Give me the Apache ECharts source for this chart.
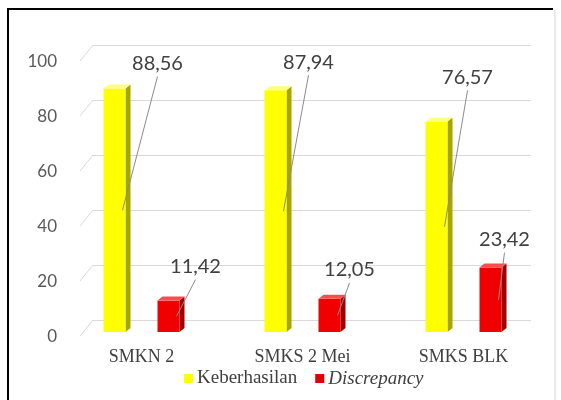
<!DOCTYPE html>
<html>
<head>
<meta charset="utf-8">
<script src="https://cdn.jsdelivr.net/npm/echarts@6/dist/echarts.min.js"></script>
<style>
  html, body { margin: 0; padding: 0; background: #fff; }
  #chart { width: 561px; height: 400px; }
</style>
</head>
<body>
<div id="chart"></div>
<script>
// data
var categories = ['SMKN 2', 'SMKS 2 Mei', 'SMKS BLK'];
var keberhasilan = [88.56, 87.94, 76.57];
var discrepancy = [11.42, 12.05, 23.42];
var yTicks = [0, 20, 40, 60, 80, 100];

// label offsets from bar (dx from bar centre, dy from bar top)
var yellowLabelPos = [[43, -25], [33, -28], [31, -44]];
var redLabelPos = [[27, -34], [20, -29], [14, -28]];

var chart = echarts.init(document.getElementById('chart'));

// 3D-looking bar with a leader-line label
function bar3d(shift, colors, labelPos) {
    return function (params, api) {
        var i = api.value(0);
        var v = api.value(1);
        var top = api.coord([i, v]);
        var base = api.coord([i, 0]);
        var bw = api.size([1, 0])[0];
        var cx = top[0] + shift * bw;
        var w = 22, d = 5, h = 4;
        var x0 = cx - w / 2, y0 = top[1], yb = base[1];
        var lp = labelPos[params.dataIndex];
        var lx = cx + lp[0], ly = y0 + lp[1];
        var txt = v.toFixed(2).replace('.', ',');
        return {
            type: 'group',
            children: [
                { type: 'polygon', shape: { points: [[x0 + w, y0], [x0 + w + d, y0 - h], [x0 + w + d, yb - h], [x0 + w, yb]] },
                  style: { fill: colors[1] } },
                { type: 'rect', shape: { x: x0, y: y0, width: w, height: yb - y0 },
                  style: { fill: colors[0] } },
                { type: 'polygon', shape: { points: [[x0, y0], [x0 + d, y0 - h], [x0 + w + d, y0 - h], [x0 + w, y0]] },
                  style: { fill: colors[2] } },
                { type: 'line', shape: { x1: lx, y1: ly + 13, x2: x0 + w - 3, y2: (y0 + yb) / 2 },
                  style: { stroke: '#8c8c8c', lineWidth: 1 } },
                { type: 'text', x: lx, y: ly,
                  style: { text: txt, fill: '#404040', font: '20px Lato, "Open Sans", sans-serif',
                           align: 'center', verticalAlign: 'middle' } }
            ]
        };
    };
}

var option = {
    animation: false,
    backgroundColor: '#fff',
    graphic: [
        { type: 'polyline', shape: { points: [[8, 400], [8, 9], [553, 9]] },
          style: { stroke: '#000', lineWidth: 2, fill: null } },
        { type: 'line', shape: { x1: 555, y1: 10, x2: 555, y2: 400 },
          style: { stroke: '#d6d6d6', lineWidth: 1 } }
    ],
    // 0: bars, 1: back wall gridlines, 2: y labels
    grid: [
        { left: 61, right: 17, top: 57, bottom: 68 },
        { left: 93, right: 30, top: 45, bottom: 80 },
        { left: 61, right: 17, top: 62, bottom: 63 }
    ],
    legend: {
        bottom: 7,
        left: 179,
        icon: 'rect',
        itemWidth: 9,
        itemHeight: 9,
        itemGap: 18,
        textStyle: { fontFamily: '"Liberation Serif", serif', fontSize: 19, color: '#404040', padding: [0, 0, 0, -1] },
        data: [
            { name: 'Keberhasilan' },
            { name: 'Discrepancy', textStyle: { fontStyle: 'italic' } }
        ]
    },
    xAxis: [
        { type: 'category', gridIndex: 0, data: categories,
          axisLine: { show: false }, axisTick: { show: false },
          axisLabel: { margin: 16, fontFamily: '"Liberation Serif", serif', fontSize: 18, color: '#404040' } },
        { type: 'value', gridIndex: 1, min: 0, max: 1, show: false },
        { type: 'value', gridIndex: 2, min: 0, max: 1, show: false }
    ],
    yAxis: [
        { type: 'value', gridIndex: 0, min: 0, max: 100, interval: 20, show: false },
        { type: 'value', gridIndex: 1, min: 0, max: 100, interval: 20,
          axisLine: { show: false }, axisTick: { show: false }, axisLabel: { show: false },
          splitLine: { lineStyle: { color: '#d9d9d9', width: 1 } } },
        { type: 'value', gridIndex: 2, min: 0, max: 100, interval: 20,
          axisLine: { show: false }, axisTick: { show: false }, splitLine: { show: false },
          axisLabel: { margin: 4, fontFamily: 'Lato, "Open Sans", sans-serif', fontSize: 17, color: '#595959' } }
    ],
    series: [
        {
            name: 'diagonals', type: 'custom', xAxisIndex: 1, yAxisIndex: 1, silent: true,
            data: yTicks.map(function (v) { return [0, v]; }),
            renderItem: function (params, api) {
                var p = api.coord([0, api.value(1)]);
                return { type: 'line', shape: { x1: p[0] - 13, y1: p[1] + 16, x2: p[0], y2: p[1] },
                         style: { stroke: '#d9d9d9', lineWidth: 1 } };
            }
        },
        {
            name: 'Keberhasilan', type: 'custom', xAxisIndex: 0, yAxisIndex: 0,
            itemStyle: { color: '#ffff00' },
            encode: { x: 0, y: 1 },
            data: keberhasilan.map(function (v, i) { return [i, v]; }),
            renderItem: bar3d(-27 / 161, ['#ffff00', '#a6a600', '#ffff80'], yellowLabelPos)
        },
        {
            name: 'Discrepancy', type: 'custom', xAxisIndex: 0, yAxisIndex: 0,
            itemStyle: { color: '#e00000' },
            encode: { x: 0, y: 1 },
            data: discrepancy.map(function (v, i) { return [i, v]; }),
            renderItem: bar3d(27 / 161, ['#f00000', '#a00000', '#ff4d4d'], redLabelPos)
        }
    ]
};

chart.setOption(option);
</script>
</body>
</html>
